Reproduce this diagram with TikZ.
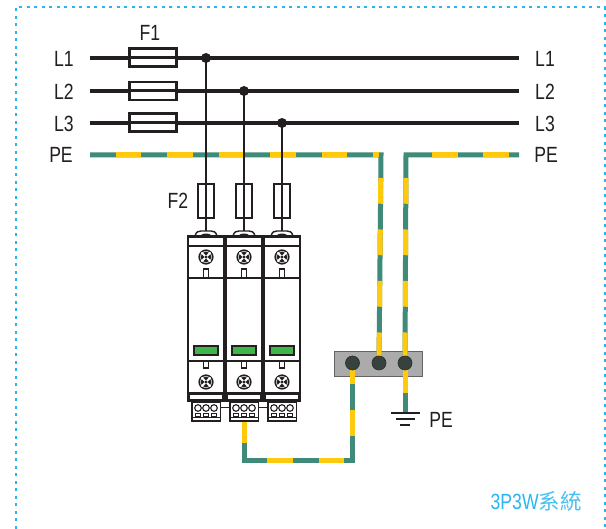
\documentclass[tikz,border=0pt]{standalone}
\usepackage{fontspec}
\setmainfont{Liberation Sans}
\newfontfamily\cjkfont{Noto Sans CJK TC}
\definecolor{pegreen}{HTML}{3F8A78}
\definecolor{peyellow}{HTML}{FFC90E}
\definecolor{bluetxt}{HTML}{29B6F0}
\definecolor{barfill}{HTML}{ABABAB}
\definecolor{holefill}{HTML}{37423F}
\definecolor{ledgreen}{HTML}{3FB54A}
\definecolor{inkk}{HTML}{231F20}
\newcommand{\narrow}[1]{\scalebox{.8}[1]{#1}}
\tikzset{
  lab/.style={font=\fontsize{22}{22}\selectfont,text=inkk,inner sep=0pt,anchor=center},
  phase/.style={line width=3.4pt,draw=inkk},
  thin wire/.style={line width=1.7pt,draw=inkk},
  linefuse/.style={draw=inkk,line width=2.6pt,fill=white,minimum width=47pt,minimum height=18pt,inner sep=0pt},
  armfuse/.style={draw=inkk,line width=2pt,fill=white,minimum width=16pt,minimum height=34pt,inner sep=0pt},
  junction/.style={circle,fill=inkk,minimum size=10pt,inner sep=0pt},
  hole/.style={circle,fill=holefill,draw=holefill!70!black,line width=.6pt,minimum size=14pt,inner sep=0pt},
  pewire/.style={line width=5pt,draw=pegreen,line join=miter},
  peband/.style={line width=5pt,draw=peyellow,dash pattern=on 25.75pt off 25.75pt,dash phase=#1},
  body/.style={draw=inkk,line width=2pt,fill=white},
}
\newcommand{\screw}[2]{%
  \fill[white] (#1,#2) circle (7.5);
  \draw[inkk,line width=1.6pt] (#1,#2) circle (6.8);
  \fill[inkk] (#1,#2) circle (5.4);
  \draw[white,line width=1.8pt] (#1-4.6,#2-4.6) -- (#1+4.6,#2+4.6) (#1-4.6,#2+4.6) -- (#1+4.6,#2-4.6);
  \fill[inkk] (#1,#2) circle (1.6);
}
\begin{document}
\begin{tikzpicture}[x=1pt,y=-1pt]
\useasboundingbox (0,0) rectangle (606,529);
\fill[white] (0,0) rectangle (606,529);
% dotted frame
\draw[bluetxt,line width=2.2pt,dash pattern=on 3pt off 4.5pt] (16,529) -- (16,7) -- (606,7);
\draw[bluetxt,line width=2.2pt,dash pattern=on 3pt off 4.5pt] (605,7) -- (605,529);

% labels
\node[lab] (tF1) at (150,33) {\narrow{F1}};
\node[lab] (tL1a) at (64,59) {\narrow{L1}};
\node[lab] (tL2a) at (64,92) {\narrow{L2}};
\node[lab] (tL3a) at (64,124) {\narrow{L3}};
\node[lab] (tPEa) at (61,155) {\narrow{PE}};
\node[lab] (tL1b) at (545,59) {\narrow{L1}};
\node[lab] (tL2b) at (545,92) {\narrow{L2}};
\node[lab] (tL3b) at (545,124) {\narrow{L3}};
\node[lab] (tPEb) at (546,155) {\narrow{PE}};
\node[lab] (tF2) at (178,201) {\narrow{F2}};
\node[lab] (tPEg) at (441,420) {\narrow{PE}};
\node[inner sep=0pt,anchor=west,text=bluetxt,font=\fontsize{22}{22}\selectfont] (tsys) at (490.5,501) {\narrow{3P3W}\cjkfont\fontsize{21.5}{22}\selectfont\color{bluetxt!85} 系統};

% line ends
\coordinate (L1s) at (90,58);  \coordinate (L1e) at (519,58);
\coordinate (L2s) at (90,91);  \coordinate (L2e) at (519,91);
\coordinate (L3s) at (90,123); \coordinate (L3e) at (519,123);
\draw[phase] (L1s) -- (L1e);
\draw[phase] (L2s) -- (L2e);
\draw[phase] (L3s) -- (L3e);

% line fuses: white body, phase line through it
\foreach \n/\yy in {1/57.5,2/91,3/122.5}{
  \node[linefuse] (FA\n) at (153,\yy) {};
  \draw[phase,line width=3pt] (FA\n.west) -- (FA\n.east);
}

% PE bar
\node[draw=inkk!70,line width=1pt,fill=barfill,minimum width=88pt,minimum height=25pt,inner sep=0pt] (bar) at (378.5,364) {};

% PE wires
\coordinate (PEs) at (90,155);
\coordinate (PEy) at (379,155);
\coordinate (PEc) at (381,155);
\coordinate (PE2e) at (519,155);
\coordinate (PE2c) at (406,155);
\coordinate (b2) at (379,363);
\coordinate (b3) at (405,363);
\coordinate (b1) at (352.5,363);
\coordinate (low1) at (352.5,460.5);
\coordinate (low2) at (244.5,460.5);
\coordinate (g1) at (405,413);
\coordinate (bot2) at (244.5,421);

\draw[pewire] (PEs) -- (PEc) -- (b2);
\draw[peband=26pt] (PEs) -- (PEy);
\draw[peband=28.5pt] (PEc) -- (b2);
\draw[pewire] (PE2e) -- (PE2c) -- (b3);
\draw[peband=41.5pt] (PE2e) -- (PE2c);
\draw[peband=28.5pt] (PE2c) -- (b3);
\draw[pewire] (b3) -- (g1);
\draw[peband=0pt,dash pattern=on 30pt off 30pt] (b3) -- (g1);
\draw[pewire] (bot2) -- (low2) -- (low1) -- (b1);
\draw[peband=0pt,dash pattern=on 22pt off 60pt] (bot2) -- (low2);
\draw[peband=29pt] (low2) -- (low1);
\draw[peband=27pt] (low1) -- (b1);

% modules
\foreach \n/\cx in {1/206,2/244,3/282}{
  \begin{scope}
  % dome
  \draw[inkk,line width=1.4pt,fill=white] (\cx-11,236) .. controls (\cx-10,231.5) and (\cx-7,231) .. (\cx-5,231) -- (\cx+5,231) .. controls (\cx+7,231) and (\cx+10,231.5) .. (\cx+11,236);
  \draw[inkk,line width=1.2pt] (\cx-5,236) .. controls (\cx-4,233.5) and (\cx+4,233.5) .. (\cx+5,236);
  % body
  \draw[body] (\cx-18,236) rectangle (\cx+17.5,393);
  \fill[inkk] (\cx-18.8,235) rectangle (\cx+18.3,238.5);
  \draw[inkk,line width=1.8pt] (\cx-18,246) -- (\cx+17.5,246);
  \draw[inkk,line width=1.5pt] (\cx-18,278) -- (\cx+17.5,278);
  \draw[inkk,line width=1.5pt] (\cx-18,361) -- (\cx+17.5,361);
  \draw[inkk,line width=1.2pt] (\cx-2.5,278) -- (\cx-2.5,269) -- (\cx+2.5,269) -- (\cx+2.5,278);
  \draw[inkk,line width=1.2pt] (\cx-2.5,361) -- (\cx-2.5,368) -- (\cx+2.5,368) -- (\cx+2.5,361);
  \screw{\cx}{257}
  \screw{\cx}{382}
  % status window
  \draw[inkk,line width=1.2pt,fill=ledgreen] (\cx-12,346) rectangle (\cx+12,355);
  % base band
  \fill[inkk] (\cx-19,392) rectangle (\cx+18.5,402);
  \fill[white] (\cx-16.5,395) rectangle (\cx+16,399);
  % pluggable connector
  \draw[inkk,line width=1.4pt,fill=white] (\cx-14,402) rectangle (\cx+14.5,421);
  \draw[inkk,line width=1.2pt] (\cx-14,417.5) -- (\cx+14.5,417.5);
  \foreach \dx in {-8,0,8}{
    \draw[inkk,line width=1.1pt,fill=white] (\cx+\dx,408) circle (3.3);
    \draw[inkk,line width=1pt] (\cx+\dx-2.7,413.5) rectangle (\cx+\dx+2.7,417);
  }
  \end{scope}
  \coordinate (top\n) at (\cx,231);
  \coordinate (clipL\n) at (\cx-14,408);
  \coordinate (clipR\n) at (\cx+14.5,408);
}
\draw[inkk,line width=1pt] (clipR1) -- (clipL2);
\draw[inkk,line width=1pt] (clipR2) -- (clipL3);

% arm fuses and junctions
\node[armfuse] (FB1) at (206,201) {};
\node[armfuse] (FB2) at (244,201) {};
\node[armfuse] (FB3) at (282,201) {};
\node[junction] (J1) at (206,58) {};
\node[junction] (J2) at (244,91) {};
\node[junction] (J3) at (282,123) {};
\draw[thin wire] (J1.center) -- (top1);
\draw[thin wire] (J2.center) -- (top2);
\draw[thin wire] (J3.center) -- (top3);

% holes
\node[hole] (h1) at (b1) {};
\node[hole] (h2) at (b2) {};
\node[hole] (h3) at (b3) {};

% ground
\coordinate (g2) at (405,419.5);
\coordinate (g3) at (405,425.5);
\draw[inkk,line width=2pt] ([xshift=-14.5pt]g1) -- ([xshift=14.5pt]g1);
\draw[inkk,line width=2pt] ([xshift=-9.5pt]g2) -- ([xshift=9.5pt]g2);
\draw[inkk,line width=2pt] ([xshift=-5pt]g3) -- ([xshift=5pt]g3);
\end{tikzpicture}
\end{document}
